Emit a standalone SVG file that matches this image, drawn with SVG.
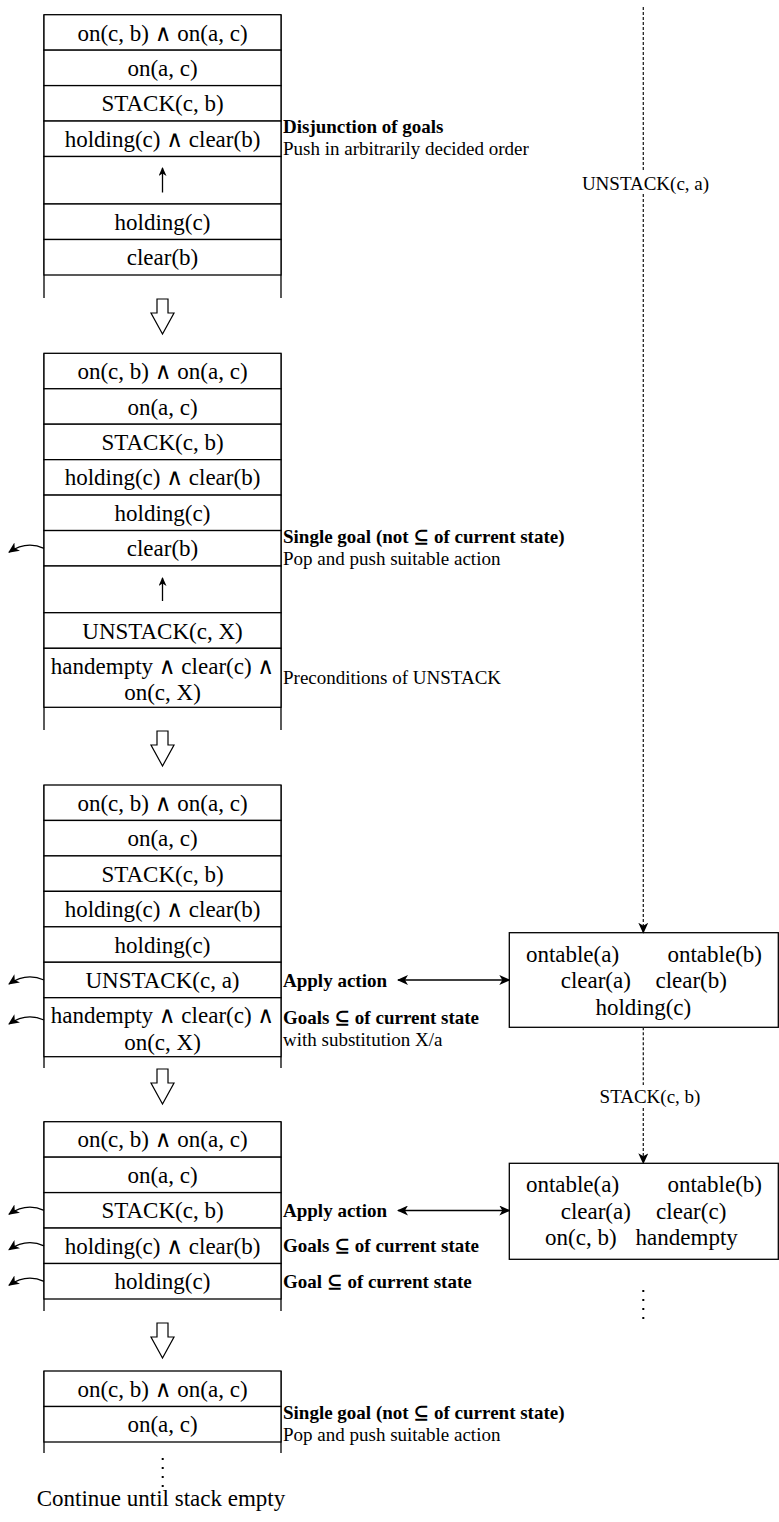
<svg xmlns="http://www.w3.org/2000/svg" width="779" height="1522" viewBox="0 0 779 1522">
<style>
.cell{fill:#fff;stroke:#000;stroke-width:1.3}
.side{stroke:#000;stroke-width:1.3;fill:none}
.t{font-family:"Liberation Serif","Times New Roman","DejaVu Serif",serif;font-size:23px;text-anchor:middle;fill:#000}
.a{font-family:"Liberation Serif","Times New Roman","DejaVu Serif",serif;font-size:19px;fill:#000}
.b{font-weight:bold}
.lbl{font-family:"Liberation Serif","Times New Roman","DejaVu Serif",serif;font-size:19px;text-anchor:middle;fill:#000}
.dot{stroke:#222;stroke-width:1.3;stroke-dasharray:3 2;fill:none}
.dots{stroke:#000;stroke-width:2;stroke-dasharray:2 7;fill:none}
.hollow{fill:#fff;stroke:#000;stroke-width:1.2}
.pop{fill:none;stroke:#000;stroke-width:1.3;marker-end:url(#ah)}
.up{fill:none;stroke:#000;stroke-width:1.3;marker-end:url(#ahs)}
.dbl{fill:none;stroke:#000;stroke-width:1.3;marker-end:url(#ah);marker-start:url(#ah)}
.dn{fill:none;stroke:#222;stroke-width:1.3;stroke-dasharray:3 2;marker-end:url(#ah)}
</style>
<defs>
<marker id="ah" markerUnits="userSpaceOnUse" markerWidth="11" markerHeight="10" refX="10" refY="5" orient="auto-start-reverse" viewBox="0 0 11 10">
<path d="M0,0 L11,5 L0,10 L3,5 Z" fill="#000"/>
</marker>
<marker id="ahs" markerUnits="userSpaceOnUse" markerWidth="9" markerHeight="8" refX="8" refY="4" orient="auto" viewBox="0 0 9 8">
<path d="M0,0 L9,4 L0,8 L2.5,4 Z" fill="#000"/>
</marker>
</defs>
<rect width="779" height="1522" fill="#fff"/>

<!-- Stack 1 -->
<g id="stack1">
<line class="side" x1="44" y1="14.7" x2="44" y2="298"/>
<line class="side" x1="281" y1="14.7" x2="281" y2="298"/>
<g id="s1r0"><rect class="cell" x="44" y="14.7" width="237" height="35.45"/><text class="t" x="162.5" y="40.5">on(c, b) ∧ on(a, c)</text></g>
<g id="s1r1"><rect class="cell" x="44" y="50.15" width="237" height="35.45"/><text class="t" x="162.5" y="75.9">on(a, c)</text></g>
<g id="s1r2"><rect class="cell" x="44" y="85.6" width="237" height="35.45"/><text class="t" x="162.5" y="111.4">STACK(c, b)</text></g>
<g id="s1r3"><rect class="cell" x="44" y="121.05" width="237" height="35.45"/><text class="t" x="162.5" y="146.8">holding(c) ∧ clear(b)</text></g>
<g id="s1r4"><rect class="cell" x="44" y="156.5" width="237" height="47.5"/></g>
<g id="s1r5"><rect class="cell" x="44" y="204" width="237" height="35.5"/><text class="t" x="162.5" y="229.8">holding(c)</text></g>
<g id="s1r6"><rect class="cell" x="44" y="239.5" width="237" height="35.5"/><text class="t" x="162.5" y="265.3">clear(b)</text></g>
</g>
<g id="note1">
<text class="a b" x="283" y="133.3">Disjunction of goals</text>
<text class="a" x="283" y="155">Push in arbitrarily decided order</text>
</g>

<!-- Stack 2 -->
<g id="stack2">
<line class="side" x1="44" y1="353.3" x2="44" y2="730"/>
<line class="side" x1="281" y1="353.3" x2="281" y2="730"/>
<g id="s2r0"><rect class="cell" x="44" y="353.3" width="237" height="35.45"/><text class="t" x="162.5" y="379">on(c, b) ∧ on(a, c)</text></g>
<g id="s2r1"><rect class="cell" x="44" y="388.75" width="237" height="35.45"/><text class="t" x="162.5" y="414.5">on(a, c)</text></g>
<g id="s2r2"><rect class="cell" x="44" y="424.2" width="237" height="35.45"/><text class="t" x="162.5" y="449.9">STACK(c, b)</text></g>
<g id="s2r3"><rect class="cell" x="44" y="459.65" width="237" height="35.45"/><text class="t" x="162.5" y="485.4">holding(c) ∧ clear(b)</text></g>
<g id="s2r4"><rect class="cell" x="44" y="495.1" width="237" height="35.45"/><text class="t" x="162.5" y="520.8">holding(c)</text></g>
<g id="s2r5"><rect class="cell" x="44" y="530.55" width="237" height="35.45"/><text class="t" x="162.5" y="556.3">clear(b)</text></g>
<g id="s2r6"><rect class="cell" x="44" y="566" width="237" height="46.7"/></g>
<g id="s2r7"><rect class="cell" x="44" y="612.7" width="237" height="35.6"/><text class="t" x="162.5" y="638.5">UNSTACK(c, X)</text></g>
<g id="s2r8"><rect class="cell" x="44" y="648.3" width="237" height="59"/><text class="t" x="162.5" y="673.5">handempty ∧ clear(c) ∧</text><text class="t" x="162.5" y="700">on(c, X)</text></g>
</g>
<g id="note2">
<text class="a b" x="283" y="543">Single goal (not ⊆ of current state)</text>
<text class="a" x="283" y="564.7">Pop and push suitable action</text>
</g>
<g id="note3"><text class="a" x="283" y="684.3">Preconditions of UNSTACK</text></g>

<!-- Stack 3 -->
<g id="stack3">
<line class="side" x1="44" y1="785" x2="44" y2="1068"/>
<line class="side" x1="281" y1="785" x2="281" y2="1068"/>
<g id="s3r0"><rect class="cell" x="44" y="785" width="237" height="35.45"/><text class="t" x="162.5" y="810.7">on(c, b) ∧ on(a, c)</text></g>
<g id="s3r1"><rect class="cell" x="44" y="820.45" width="237" height="35.45"/><text class="t" x="162.5" y="846.2">on(a, c)</text></g>
<g id="s3r2"><rect class="cell" x="44" y="855.9" width="237" height="35.45"/><text class="t" x="162.5" y="881.6">STACK(c, b)</text></g>
<g id="s3r3"><rect class="cell" x="44" y="891.35" width="237" height="35.45"/><text class="t" x="162.5" y="917.1">holding(c) ∧ clear(b)</text></g>
<g id="s3r4"><rect class="cell" x="44" y="926.8" width="237" height="35.45"/><text class="t" x="162.5" y="952.5">holding(c)</text></g>
<g id="s3r5"><rect class="cell" x="44" y="962.25" width="237" height="35.45"/><text class="t" x="162.5" y="988">UNSTACK(c, a)</text></g>
<g id="s3r6"><rect class="cell" x="44" y="997.7" width="237" height="59"/><text class="t" x="162.5" y="1022.9">handempty ∧ clear(c) ∧</text><text class="t" x="162.5" y="1049.5">on(c, X)</text></g>
</g>
<g id="note4"><text class="a b" x="283" y="986.5">Apply action</text></g>
<g id="note5">
<text class="a b" x="283" y="1024">Goals ⊆ of current state</text>
<text class="a" x="283" y="1045.7">with substitution X/a</text>
</g>

<!-- Stack 4 -->
<g id="stack4">
<line class="side" x1="44" y1="1121.7" x2="44" y2="1311"/>
<line class="side" x1="281" y1="1121.7" x2="281" y2="1311"/>
<g id="s4r0"><rect class="cell" x="44" y="1121.7" width="237" height="35.45"/><text class="t" x="162.5" y="1147.4">on(c, b) ∧ on(a, c)</text></g>
<g id="s4r1"><rect class="cell" x="44" y="1157.15" width="237" height="35.45"/><text class="t" x="162.5" y="1182.9">on(a, c)</text></g>
<g id="s4r2"><rect class="cell" x="44" y="1192.6" width="237" height="35.45"/><text class="t" x="162.5" y="1218.3">STACK(c, b)</text></g>
<g id="s4r3"><rect class="cell" x="44" y="1228.05" width="237" height="35.45"/><text class="t" x="162.5" y="1253.8">holding(c) ∧ clear(b)</text></g>
<g id="s4r4"><rect class="cell" x="44" y="1263.5" width="237" height="35.5"/><text class="t" x="162.5" y="1289.3">holding(c)</text></g>
</g>
<g id="note6"><text class="a b" x="283" y="1216.8">Apply action</text></g>
<g id="note7"><text class="a b" x="283" y="1252.3">Goals ⊆ of current state</text></g>
<g id="note8"><text class="a b" x="283" y="1287.8">Goal ⊆ of current state</text></g>

<!-- Stack 5 -->
<g id="stack5">
<line class="side" x1="44" y1="1371" x2="44" y2="1453"/>
<line class="side" x1="281" y1="1371" x2="281" y2="1453"/>
<g id="s5r0"><rect class="cell" x="44" y="1371" width="237" height="35.5"/><text class="t" x="162.5" y="1396.7">on(c, b) ∧ on(a, c)</text></g>
<g id="s5r1"><rect class="cell" x="44" y="1406.5" width="237" height="35.5"/><text class="t" x="162.5" y="1432.2">on(a, c)</text></g>
</g>
<g id="note9">
<text class="a b" x="283" y="1419.3">Single goal (not ⊆ of current state)</text>
<text class="a" x="283" y="1441">Pop and push suitable action</text>
</g>
<g id="continue"><text class="t" x="161" y="1506">Continue until stack empty</text></g>

<!-- State boxes -->
<g id="state1">
<rect class="cell" x="509.3" y="932.7" width="269" height="94.6"/>
<text class="t" x="572.5" y="961.5">ontable(a)</text>
<text class="t" x="714.7" y="961.5">ontable(b)</text>
<text class="t" x="595.8" y="988">clear(a)</text>
<text class="t" x="691.2" y="988">clear(b)</text>
<text class="t" x="643.3" y="1014.5">holding(c)</text>
</g>
<g id="state2">
<rect class="cell" x="509.3" y="1163.3" width="269" height="96"/>
<text class="t" x="572.5" y="1192">ontable(a)</text>
<text class="t" x="714.7" y="1192">ontable(b)</text>
<text class="t" x="595.8" y="1218.5">clear(a)</text>
<text class="t" x="691.2" y="1218.5">clear(c)</text>
<text class="t" x="580.8" y="1245">on(c, b)</text>
<text class="t" x="686.7" y="1245">handempty</text>
</g>

<!-- Connectors -->
<g id="connectors">
<path class="hollow" d="M157,299 L168,299 L168,313 L174,313 L162.5,334 L151,313 L157,313 Z"/>
<path class="hollow" d="M157,731 L168,731 L168,745 L174,745 L162.5,766 L151,745 L157,745 Z"/>
<path class="hollow" d="M157,1069 L168,1069 L168,1083 L174,1083 L162.5,1104 L151,1083 L157,1083 Z"/>
<path class="hollow" d="M157,1323 L168,1323 L168,1337 L174,1337 L162.5,1358 L151,1337 L157,1337 Z"/>
<line class="up" x1="162.5" y1="192.5" x2="162.5" y2="168"/>
<line class="up" x1="162.5" y1="601" x2="162.5" y2="578"/>
<path class="pop" d="M44,548.3 C33,543.3 22,543.3 9,552.3"/>
<path class="pop" d="M44,980 C33,975 22,975 9,984"/>
<path class="pop" d="M44,1020 C33,1015 22,1015 9,1024"/>
<path class="pop" d="M44,1210.3 C33,1205.3 22,1205.3 9,1214.3"/>
<path class="pop" d="M44,1245.8 C33,1240.8 22,1240.8 9,1249.8"/>
<path class="pop" d="M44,1281.3 C33,1276.3 22,1276.3 9,1285.3"/>
<line class="dbl" x1="398" y1="980" x2="509.3" y2="980"/>
<line class="dbl" x1="398" y1="1210.5" x2="509.3" y2="1210.5"/>
<line class="dot" x1="643.3" y1="7" x2="643.3" y2="171"/>
<line class="dn" x1="643.3" y1="194" x2="643.3" y2="932.7"/>
<text class="lbl" x="645.5" y="189.5">UNSTACK(c, a)</text>
<line class="dot" x1="643.3" y1="1027.3" x2="643.3" y2="1085"/>
<line class="dn" x1="643.3" y1="1108" x2="643.3" y2="1163.3"/>
<text class="lbl" x="650" y="1103.3">STACK(c, b)</text>
<line class="dots" x1="643.3" y1="1290" x2="643.3" y2="1326"/>
<line class="dots" x1="162.7" y1="1458" x2="162.7" y2="1488"/>
</g>
</svg>
